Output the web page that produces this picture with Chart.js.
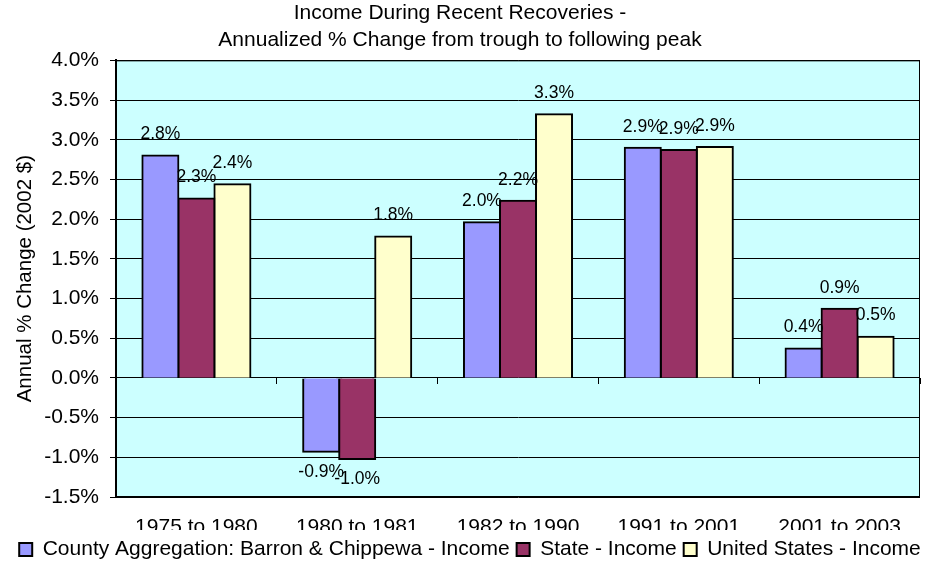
<!DOCTYPE html>
<html>
<head>
<meta charset="utf-8">
<title>Income During Recent Recoveries</title>
<script src="https://cdn.jsdelivr.net/npm/chart.js@4.4.1/dist/chart.umd.min.js"></script>
<style>
  html, body { margin: 0; padding: 0; background: #fff; }
  #wrap { width: 940px; height: 561px; }
</style>
</head>
<body>
<div id="wrap"><canvas id="recoveryChart" width="940" height="561"></canvas></div>
<script>
// chart data
const periods = ['1975 to 1980', '1980 to 1981', '1982 to 1990', '1991 to 2001', '2001 to 2003'];
const countyIncome = [2.80, -0.93, 1.96, 2.90, 0.37];
const stateIncome = [2.26, -1.02, 2.23, 2.87, 0.87];
const usIncome = [2.44, 1.78, 3.32, 2.91, 0.52];
const seriesNames = [
    'County Aggregation: Barron & Chippewa - Income',
    'State - Income',
    'United States - Income'
];
const yMin = -1.5;
const yMax = 4.0;
const yStep = 0.5;

Chart.defaults.font.family = '"Liberation Sans", Arial, sans-serif';
Chart.defaults.color = '#000';

// light cyan plot area with a thin frame
const plotBackground = {
    id: 'plotBackground',
    beforeDraw(chart) {
        const { ctx, chartArea: a } = chart;
        ctx.save();
        ctx.fillStyle = '#CCFFFF';
        ctx.fillRect(a.left, a.top, a.width, a.height);
        ctx.strokeStyle = '#000';
        ctx.lineWidth = 1;
        ctx.strokeRect(a.left + 0.5, a.top + 0.5, a.width - 1, a.height - 1);
        ctx.restore();
    }
};

// value labels above (or below) every bar
const barValueLabels = {
    id: 'barValueLabels',
    afterDatasetsDraw(chart) {
        const ctx = chart.ctx;
        ctx.save();
        ctx.font = '17.5px "Liberation Sans", Arial, sans-serif';
        ctx.fillStyle = '#000';
        ctx.textAlign = 'center';
        ctx.textBaseline = 'middle';
        chart.data.datasets.forEach((ds, i) => {
            chart.getDatasetMeta(i).data.forEach((bar, j) => {
                const v = ds.data[j];
                const y = v >= 0 ? bar.y - 21 : bar.y + 20.5;
                ctx.fillText(v.toFixed(1) + '%', bar.x, y);
            });
        });
        ctx.restore();
    }
};

// the legend sits over the lower half of the category labels, like the original
const legendOverLabels = {
    id: 'legendOverLabels',
    afterDraw(chart) {
        const ctx = chart.ctx;
        ctx.save();
        ctx.fillStyle = '#fff';
        ctx.fillRect(0, 530, chart.width, chart.height - 530);
        // the legend is centred on the whole picture, not on the title box
        ctx.translate(10, 0);
        chart.legend.draw();
        ctx.restore();
    }
};

const LEGEND_DROP = 9;

new Chart(document.getElementById('recoveryChart'), {
    type: 'bar',
    data: {
        labels: periods,
        datasets: [
            { label: seriesNames[0], data: countyIncome, backgroundColor: '#9999FF', xAxisID: 'x' },
            { label: seriesNames[1], data: stateIncome, backgroundColor: '#993366', xAxisID: 'x' },
            { label: seriesNames[2], data: usIncome, backgroundColor: '#FFFFCC', xAxisID: 'x' }
        ]
    },
    options: {
        responsive: false,
        animation: false,
        layout: { padding: { top: 0, left: 0, right: 20, bottom: -LEGEND_DROP } },
        datasets: {
            bar: {
                borderColor: '#000',
                borderWidth: 2,
                inflateAmount: 1,
                categoryPercentage: 0.672,
                barPercentage: 1
            }
        },
        scales: {
            x: {
                type: 'category',
                position: 'bottom',
                offset: true,
                grid: { display: false, drawTicks: false },
                border: { display: false },
                ticks: { font: { size: 21 }, color: '#000', padding: 18, maxRotation: 0, autoSkip: false },
                afterFit(s) {
                    s.height = s.chart.height + LEGEND_DROP - 497 - s.chart.legend.height;
                }
            },
            x2: {
                type: 'category',
                position: { y: 0 },
                offset: true,
                grid: { offset: true, drawOnChartArea: false, tickLength: 6, color: '#000' },
                border: { display: false },
                ticks: { display: false }
            },
            y: {
                min: yMin,
                max: yMax,
                ticks: {
                    stepSize: yStep,
                    callback: v => v.toFixed(1) + '%',
                    font: { size: 21 },
                    color: '#000',
                    padding: 11
                },
                grid: { color: '#000', tickLength: 6 },
                border: { color: '#000', width: 2 },
                title: {
                    display: true,
                    text: 'Annual % Change (2002 $)',
                    font: { size: 20.5 },
                    color: '#000',
                    padding: { top: 13, bottom: 0 }
                },
                afterFit(s) {
                    s.width = 116;
                }
            }
        },
        plugins: {
            title: {
                display: true,
                text: ['Income During Recent Recoveries -', 'Annualized % Change from trough to following peak'],
                font: { size: 21, weight: 'normal', lineHeight: 1.27 },
                color: '#000',
                padding: { top: 0, bottom: 7 }
            },
            legend: {
                position: 'bottom',
                labels: { font: { size: 21 }, color: '#000', boxWidth: 13, boxHeight: 13, padding: 7 }
            },
            tooltip: { enabled: false }
        }
    },
    plugins: [plotBackground, barValueLabels, legendOverLabels]
});
</script>
</body>
</html>
